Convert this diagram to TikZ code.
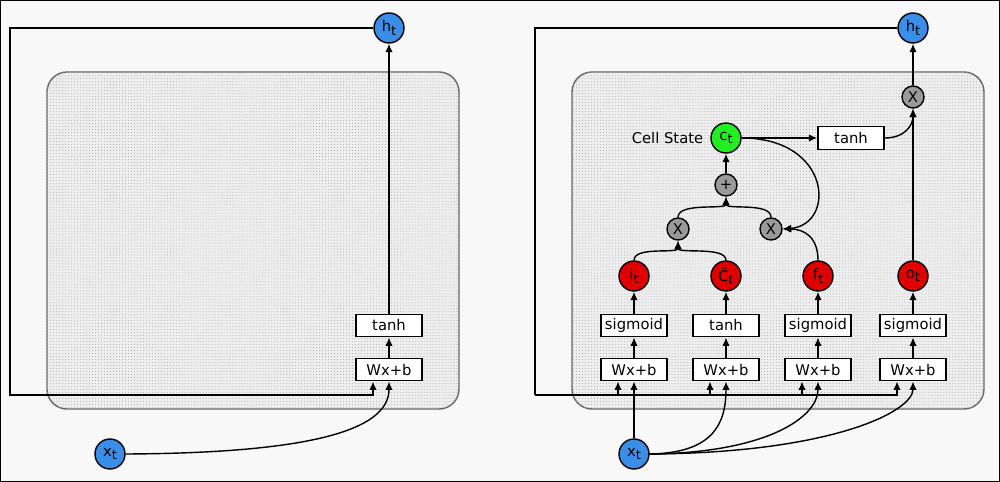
\documentclass[tikz,border=0pt]{standalone}
\usepackage{fontspec}
\setmainfont{DejaVu Sans}
\usetikzlibrary{arrows.meta,calc,patterns.meta}
\definecolor{bgcol}{HTML}{F8F8F8}
\definecolor{cellfill}{HTML}{EEEEEE}
\definecolor{nodeblue}{HTML}{3A8EE8}
\definecolor{nodered}{HTML}{E00000}
\definecolor{nodegreen}{HTML}{22EE22}
\definecolor{nodegray}{HTML}{9A9A9A}
\newcommand\fs{\fontsize{8.4pt}{10pt}\selectfont}
\newcommand\sbt[1]{\raisebox{-0.4ex}{\fontsize{7.4pt}{8pt}\selectfont #1}}
\tikzset{
  arr/.style={-{Latex[length=4.8pt,width=4.2pt]}, line width=0.8pt},
  ln/.style={line width=0.8pt},
  opbox/.style={draw, line width=0.8pt, fill=white, minimum width=1.32cm, minimum height=0.45cm, inner sep=0pt, font=\fs},
  bigc/.style={circle, draw, line width=0.8pt, minimum size=0.6cm, inner sep=0pt, font=\fs},
  smallc/.style={circle, draw, line width=0.8pt, fill=nodegray, minimum size=0.44cm, inner sep=0pt, font=\fs},
  cellbox/.style={draw=gray!80!black, line width=0.8pt, rounded corners=0.4cm, fill=cellfill,
    postaction={pattern={Dots[distance=1.7pt,radius=0.3pt]}, pattern color=gray!60}},
}
\begin{document}
\begin{tikzpicture}[x=0.02cm,y=-0.02cm]
\useasboundingbox (0,0) rectangle (1000,482);
\fill[bgcol] (0,0) rectangle (1000,482);
\draw[line width=0.6pt] (0.6,0.6) rectangle (999.4,481.4);

% ---------- left panel ----------
\draw[cellbox] (47,72) rectangle (459,409);
\node[bigc, fill=nodeblue] (hL) at (389,28) {h\sbt{t}};
\node[opbox] (tanhL) at (389,325.5) {tanh};
\node[opbox] (WxL) at (389,369.5) {Wx+b};
\node[bigc, fill=nodeblue] (xL) at (110,454) {x\sbt{t}};
\coordinate (fLa) at (10,395);
\draw[arr] (hL.west) -| (fLa) -| ($(WxL.south)+(-16,0)$);
\draw[arr] (xL.east) .. controls (330,453) and (389,425) .. (WxL.south);
\draw[arr] (WxL.north) -- (tanhL.south);
\draw[arr] (tanhL.north) -- (hL.south);

% ---------- right panel ----------
\draw[cellbox] (572,72) rectangle (984,409);
\node[bigc, fill=nodeblue] (hR) at (913,28) {h\sbt{t}};
\node[smallc] (x3) at (913,97) {X};
\node[bigc, fill=nodegreen] (cR) at (726,138) {c\sbt{t}};
\node[font=\fs, anchor=east, inner sep=1pt] (cs) at ($(cR.west)+(-5,0)$) {Cell State};
\node[opbox] (tanhR) at (851,138) {tanh};
\node[smallc] (plus) at (726,185) {+};
\node[smallc] (x1) at (678,229) {X};
\node[smallc] (x2) at (771,229) {X};
\node[bigc, fill=nodered] (iR) at (634,276) {i\sbt{t}};
\node[bigc, fill=nodered] (CR) at (726,276) {\~{C}\sbt{t}};
\node[bigc, fill=nodered] (fR) at (818,276) {f\sbt{t}};
\node[bigc, fill=nodered] (oR) at (913,276) {o\sbt{t}};
\node[opbox] (s1) at (634,325.5) {sigmoid};
\node[opbox] (s2) at (726,325.5) {tanh};
\node[opbox] (s3) at (818,325.5) {sigmoid};
\node[opbox] (s4) at (913,325.5) {sigmoid};
\node[opbox] (w1) at (634,369.5) {Wx+b};
\node[opbox] (w2) at (726,369.5) {Wx+b};
\node[opbox] (w3) at (818,369.5) {Wx+b};
\node[opbox] (w4) at (913,369.5) {Wx+b};
\node[bigc, fill=nodeblue] (xR) at (634,454) {x\sbt{t}};

% feedback of h_t
\coordinate (fRa) at (535,395);
\draw[ln] (hR.west) -| (fRa);
\draw[arr] (fRa) -| ($(w1.south)+(-16,0)$);
\draw[arr] (fRa) -| ($(w2.south)+(-16,0)$);
\draw[arr] (fRa) -| ($(w3.south)+(-16,0)$);
\draw[arr] (fRa) -| ($(w4.south)+(-16,0)$);

% inputs x_t
\draw[arr] (xR.north) -- (w1.south);
\draw[arr] (xR.east) .. controls (712,453) and (726,425) .. (w2.south);
\draw[arr] (xR.east) .. controls (765,453) and (818,418) .. (w3.south);
\draw[arr] (xR.east) .. controls (830,453) and (913,412) .. (w4.south);

% columns
\foreach \w/\s/\r in {w1/s1/iR, w2/s2/CR, w3/s3/fR, w4/s4/oR}{
  \draw[arr] (\w.north) -- (\s.south);
  \draw[arr] (\s.north) -- (\r.south);
}

% gates
\draw[arr] (iR.north) .. controls (634,246) and (678,254) .. (x1.south);
\draw[arr] (CR.north) .. controls (726,246) and (678,254) .. (x1.south);
\draw[arr] (x1.north) .. controls (678,202) and (726,210) .. (plus.south);
\draw[arr] (x2.north) .. controls (771,202) and (726,210) .. (plus.south);
\draw[arr] (plus.north) -- (cR.south);
\draw[arr] (cR.east) -- (tanhR.west);
\draw[arr] (cR.east) .. controls (832,138) and (836,225) .. (x2.east);
\draw[arr] (fR.north) .. controls (818,238) and (805,229) .. (x2.east);
\draw[arr] (tanhR.east) .. controls (905,138) and (913,125) .. (x3.south);
\draw[arr] (oR.north) -- (x3.south);
\draw[arr] (x3.north) -- (hR.south);
\end{tikzpicture}
\end{document}
